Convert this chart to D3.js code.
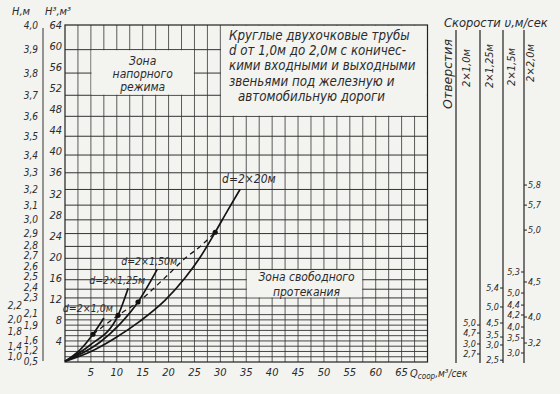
<!DOCTYPE html>
<html>
<head>
<meta charset="utf-8">
<script src="https://cdn.jsdelivr.net/npm/d3@7"></script>
<style>
  body { margin: 0; background: #f3f3f0; }
  text { font-family: "DejaVu Sans Condensed", "DejaVu Sans", sans-serif; font-style: italic; fill: #2b2b2b; }
  .big { font-family: "DejaVu Sans", sans-serif; }
</style>
</head>
<body>
<script>
// values: Q in m3/s, H in m
const qTicks = [5, 10, 15, 20, 25, 30, 35, 40, 45, 50, 55, 60, 65];
const hTicksMain = [4.0, 3.9, 3.8, 3.7, 3.6, 3.5, 3.4, 3.3, 3.2, 3.1, 3.0, 2.9, 2.8, 2.7, 2.6, 2.5, 2.4, 2.3, 2.1, 1.9, 1.6, 1.2, 0.5];
const hTicksSide = [2.2, 2.0, 1.8, 1.4, 1.0];
const h3Ticks = [64, 60, 56, 52, 48, 44, 40, 36, 32, 28, 24, 20, 16, 12, 8, 4];
const hGrid = [2.2, 2.3, 2.4, 2.5, 2.6, 2.7, 2.8, 2.9, 3.0, 3.1, 3.2, 3.3, 3.4, 3.5, 3.6, 3.7, 3.8, 3.9];
const h3Grid = [1, 2, 3, 4, 5, 6, 7, 8, 9];

// pipe curves
const d10Q = [0, 2.9, 5.4, 7.5];
const d10H = [0.5, 1.32, 1.74, 2.03];
const d125Q = [0, 4.8, 10.25, 12.2];
const d125H = [0.5, 1.47, 2.07, 2.41];
const d150Q = [0, 6.8, 10.6, 14.1, 17.8];
const d150H = [0.5, 1.56, 1.93, 2.25, 2.6];
const d20Q = [0, 4.8, 9.7, 14.5, 19.3, 23.2, 26.1, 29, 31.5, 33.8];
const d20H = [0.5, 1.24, 1.66, 1.98, 2.27, 2.52, 2.71, 2.91, 3.07, 3.2];
// boundary of free flow (dashed), dots at each pipe
const bndQ = [5.4, 10.25, 14.1, 19.9, 23.2, 26.1, 29];
const bndH = [1.74, 2.07, 2.25, 2.55, 2.70, 2.80, 2.91];
const dotQ = [5.4, 10.25, 14.1, 29];
const dotH = [1.74, 2.07, 2.25, 2.91];

// velocity scales (value, H where it sits)
const v10 = [5.0, 4.7, 3.0, 2.7];
const v10H = [1.915, 1.765, 1.507, 1.15];
const v125 = [5.4, 5.0, 4.5, 3.5, 3.0, 2.5];
const v125H = [2.413, 2.186, 1.949, 1.68, 1.478, 0.7];
const v150 = [5.3, 5.0, 4.4, 4.2, 4.0, 3.5, 3.0];
const v150H = [2.576, 2.357, 2.211, 2.074, 1.88, 1.657, 1.196];
const v20 = [5.8, 5.7, 5.0, 4.5, 4.0, 3.2];
const v20H = [3.227, 3.1, 2.926, 2.477, 2.044, 1.533];

const titleLines = ["Круглые двухочковые трубы", "d от 1,0м до 2,0м с коничес-",
  "кими входными и выходными", "звеньями под железную и", "автомобильную дороги"];

const W = 560, H = 394;
const bg = "#f3f3f0";
const svg = d3.select("body").append("svg").attr("width", W).attr("height", H);

const x = d3.scaleLinear().domain([0, 70]).range([65, 427.5]);
const y = d3.scalePow().exponent(3).domain([0, 4]).range([362, 25]);
const y3 = d3.scaleLinear().domain([0, 64]).range([362, 25]);
const fmt = v => d3.format(".1f")(v).replace(".", ",");

// grid
const grid = svg.append("g");
grid.selectAll("line.v").data(d3.range(2.5, 70, 2.5)).enter().append("line")
  .attr("x1", d => x(d)).attr("x2", d => x(d)).attr("y1", y(4)).attr("y2", y(0))
  .attr("stroke", "#4a4a4a").attr("stroke-width", 0.9);
grid.selectAll("line.h").data(hGrid).enter().append("line")
  .attr("x1", x(0)).attr("x2", x(70)).attr("y1", d => y(d)).attr("y2", d => y(d))
  .attr("stroke", "#333").attr("stroke-width", 1);
grid.selectAll("line.h3").data(h3Grid).enter().append("line")
  .attr("x1", x(0)).attr("x2", x(70)).attr("y1", d => y3(d)).attr("y2", d => y3(d))
  .attr("stroke", "#333").attr("stroke-width", 0.9);

// blank boxes for the notes
const boxes = [[5, 25, 3.7, 3.9], [30, 70, 3.6, 4.0], [35, 57.5, 2.3, 2.6]];
grid.selectAll("rect.box").data(boxes).enter().append("rect")
  .attr("x", d => x(d[0]) + 0.6).attr("width", d => x(d[1]) - x(d[0]) - 1.2)
  .attr("y", d => y(d[3]) + 0.6).attr("height", d => y(d[2]) - y(d[3]) - 1.2)
  .attr("fill", bg);

svg.append("rect").attr("x", x(0)).attr("y", y(4))
  .attr("width", x(70) - x(0)).attr("height", y(0) - y(4))
  .attr("fill", "none").attr("stroke", "#222").attr("stroke-width", 1.2);

// left scales
svg.append("line").attr("x1", 43).attr("x2", 43).attr("y1", 28).attr("y2", 361)
  .attr("stroke", "#333").attr("stroke-width", 1);

function spread(pos, gap) {
  const out = pos.slice();
  for (let i = out.length - 2; i >= 0; i--) out[i] = Math.min(out[i], out[i + 1] - gap);
  return out;
}
const mainPos = spread(hTicksMain.map(y), 10.5);
svg.append("g").selectAll("text").data(hTicksMain).enter().append("text")
  .attr("x", 38).attr("y", (d, i) => mainPos[i] + 3.5).attr("text-anchor", "end")
  .attr("font-size", 10).text(fmt);
const sidePos = spread(hTicksSide.map(y), 10.5);
svg.append("g").selectAll("text").data(hTicksSide).enter().append("text")
  .attr("x", 22).attr("y", (d, i) => sidePos[i] + 3.5).attr("text-anchor", "end")
  .attr("font-size", 10).text(fmt);
svg.append("g").selectAll("text").data(h3Ticks).enter().append("text")
  .attr("x", 62).attr("y", d => y3(d) + 4).attr("text-anchor", "end")
  .attr("font-size", 11).text(d => d);

svg.append("text").attr("x", 12).attr("y", 15).attr("font-size", 11).text("H,м");
svg.append("text").attr("x", 45).attr("y", 15).attr("font-size", 11).text("H³,м³");

// x ticks
svg.append("g").selectAll("text").data(qTicks).enter().append("text")
  .attr("x", d => x(d)).attr("y", 376).attr("text-anchor", "middle")
  .attr("font-size", 11).text(d => d);
const ql = svg.append("text").attr("x", 410).attr("y", 377).attr("font-size", 11);
ql.append("tspan").text("Q");
ql.append("tspan").attr("dy", 2).attr("font-size", 8).text("соор");
ql.append("tspan").attr("dy", -2).attr("font-size", 10).text(",м³/сек");

// curves
const line = d3.line().x(d => x(d[0])).y(d => y(d[1])).curve(d3.curveMonotoneX);
const curves = [
  {q: d10Q, h: d10H, label: "d=2×1,0м", dx: 9, dy: -6, anchor: "end", fs: 10.5},
  {q: d125Q, h: d125H, label: "d=2×1,25м", dx: 17, dy: -4, anchor: "end", fs: 10.5},
  {q: d150Q, h: d150H, label: "d=2×1,50м", dx: 20, dy: -4, anchor: "end", fs: 10.5},
  {q: d20Q, h: d20H, label: "d=2×20м", dx: -18, dy: -6, anchor: "start", fs: 12}
];
const cg = svg.append("g");
curves.forEach(c => {
  const pts = c.q.map((q, i) => [q, c.h[i]]);
  cg.append("path").attr("d", line(pts)).attr("fill", "none")
    .attr("stroke", "#151515").attr("stroke-width", 1.7);
  const e = pts[pts.length - 1];
  cg.append("text").attr("x", x(e[0]) + c.dx).attr("y", y(e[1]) + c.dy)
    .attr("text-anchor", c.anchor).attr("font-size", c.fs).text(c.label);
});
cg.append("path").attr("d", line(bndQ.map((q, i) => [q, bndH[i]])))
  .attr("fill", "none").attr("stroke", "#151515").attr("stroke-width", 1.3)
  .attr("stroke-dasharray", "5,4");
cg.selectAll("circle").data(dotQ).enter().append("circle")
  .attr("cx", d => x(d)).attr("cy", (d, i) => y(dotH[i])).attr("r", 2.6).attr("fill", "#111");

// notes
const z1 = svg.append("g").attr("class", "big").attr("text-anchor", "middle").attr("font-size", 12);
["Зона", "напорного", "режима"].forEach((t, i) =>
  z1.append("text").attr("x", (x(5) + x(25)) / 2).attr("y", 65 + i * 13).text(t));
const z2 = svg.append("g").attr("class", "big").attr("text-anchor", "middle").attr("font-size", 12);
["Зона свободного", "протекания"].forEach((t, i) =>
  z2.append("text").attr("x", (x(35) + x(57.5)) / 2 + 2).attr("y", 281 + i * 15).text(t));
const tg = svg.append("g").attr("class", "big").attr("font-size", 13.2);
titleLines.forEach((t, i) =>
  tg.append("text").attr("x", i === 4 ? 238 : 229).attr("y", 40 + i * 15.2).text(t));

// velocity columns
const colX = d3.scaleOrdinal().domain(["otv", "1.0", "1.25", "1.5"]).range([456, 480, 503, 524]);
const vg = svg.append("g");
colX.domain().forEach(k => vg.append("line").attr("x1", colX(k)).attr("x2", colX(k))
  .attr("y1", 30).attr("y2", 363).attr("stroke", "#222").attr("stroke-width", 1.2));
vg.append("text").attr("class", "big").attr("x", 444).attr("y", 27).attr("font-size", 11.5)
  .text("Скорости υ,м/сек");
vg.append("text").attr("class", "big").attr("transform", "translate(452,74) rotate(-90)")
  .attr("text-anchor", "middle").attr("font-size", 12.5).text("Отверстия");
[["2×1,0м", 470, 68], ["2×1,25м", 493, 66], ["2×1,5м", 515, 67], ["2×2,0м", 534, 63]].forEach(d =>
  vg.append("text").attr("transform", `translate(${d[1]},${d[2]}) rotate(-90)`)
    .attr("text-anchor", "middle").attr("font-size", 11).text(d[0]));

function vScale(vals, hs, key, side) {
  const x0 = colX(key), s = side === "left" ? -1 : 1;
  const ticks = hs.map(y), lab = spread(ticks, 10);
  vals.forEach((v, i) => {
    vg.append("line").attr("x1", x0).attr("x2", x0 + s * 3).attr("y1", ticks[i]).attr("y2", ticks[i])
      .attr("stroke", "#222").attr("stroke-width", 1);
    vg.append("text").attr("x", x0 + s * 4).attr("y", lab[i] + 3.2)
      .attr("text-anchor", side === "left" ? "end" : "start").attr("font-size", 9).text(fmt(v));
  });
}
vScale(v10, v10H, "1.0", "left");
vScale(v125, v125H, "1.25", "left");
vScale(v150, v150H, "1.5", "left");
vScale(v20, v20H, "1.5", "right");
</script>
</body>
</html>
